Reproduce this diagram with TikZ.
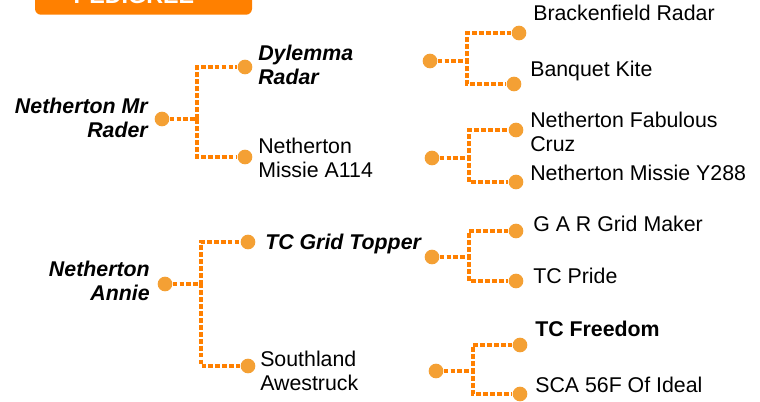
\documentclass[tikz,border=0pt]{standalone}
\usepackage{fontspec}
\setmainfont{Liberation Sans}
\usetikzlibrary{positioning}

\definecolor{pedorange}{RGB}{255,128,0}
\definecolor{dotorange}{RGB}{244,160,52}

\begin{document}
\begin{tikzpicture}[
  x=0.75pt,y=-0.75pt,
  font=\fontsize{16}{18}\selectfont,
  banner/.style={fill=pedorange,rounded corners=4.5pt,minimum width=162.75pt,minimum height=30pt,inner sep=0pt},
  bannertext/.style={font=\fontsize{17.5}{20}\selectfont\bfseries,text=white,inner sep=0pt},
  horse/.style={inner sep=0pt,align=left,anchor=base west},
  sire/.style={horse,font=\fontsize{16}{18}\selectfont\bfseries\itshape},
  champ/.style={horse,font=\fontsize{16}{18}\selectfont\bfseries},
  leftsire/.style={sire,align=right,anchor=base east},
  pdot/.style={circle,fill=dotorange,minimum size=11pt,inner sep=0pt},
  lineage/.style={draw=pedorange,line width=2.4pt,dash pattern=on 3.6pt off 1.6pt},
  fork/.style={to path={-- ++(#1,0) |- (\tikztotarget)}}
]
\useasboundingbox (0,0) rectangle (760,401);
\clip (0,0) rectangle (760,401);

% header
\node[banner,anchor=south] (head) at (143.5,15) {};
\node[bannertext,anchor=base] (headtxt) at (134,3) {PEDIGREE};

% sire side (base = last line)
\node[leftsire] (rader) at (148,137) {Netherton Mr\\Rader};
\node[pdot] (draderl) at (162,119) {};
\node[sire] (dylemma) at (258,84) {Dylemma\\Radar};
\node[pdot] (ddyl) at (245,67) {};
\node[horse] (missie) at (258,177) {Netherton\\Missie A114};
\node[pdot] (dmis) at (245,157) {};
\draw[lineage] (draderl) edge[fork=35] (ddyl) edge[fork=35] (dmis);

\node[pdot] (ddylp) at (430,61) {};
\node[horse] (brack) at (533,20) {Brackenfield Radar};
\node[pdot] (dbrack) at (519,33) {};
\node[horse] (kite) at (530,76) {Banquet Kite};
\node[pdot] (dkite) at (514,84) {};
\draw[lineage] (ddylp) edge[fork=37] (dbrack) edge[fork=37] (dkite);

\node[pdot] (dmisp) at (432,158) {};
\node[horse] (cruz) at (530,151) {Netherton Fabulous\\Cruz};
\node[pdot] (dcruz) at (516,130) {};
\node[horse] (ymis) at (530,180) {Netherton Missie Y288};
\node[pdot] (dymis) at (516,182) {};
\draw[lineage] (dmisp) edge[fork=37] (dcruz) edge[fork=37] (dymis);

% dam side
\node[leftsire] (annie) at (150,300) {Netherton\\Annie};
\node[pdot] (dannie) at (165,284) {};
\node[sire] (topper) at (265,249) {TC Grid Topper};
\node[pdot] (dtop) at (248,242) {};
\node[horse] (south) at (260,390) {Southland\\Awestruck};
\node[pdot] (dsouth) at (248,366) {};
\draw[lineage] (dannie) edge[fork=36] (dtop) edge[fork=36] (dsouth);

\node[pdot] (dtopp) at (432,257) {};
\node[horse] (gar) at (533,231) {G A R Grid Maker};
\node[pdot] (dgar) at (516,231) {};
\node[horse] (pride) at (533,283) {TC Pride};
\node[pdot] (dpride) at (516,281) {};
\draw[lineage] (dtopp) edge[fork=37] (dgar) edge[fork=37] (dpride);

\node[pdot] (dsouthp) at (436,371) {};
\node[champ] (freedom) at (535,336) {TC Freedom};
\node[pdot] (dfree) at (520,345) {};
\node[horse] (sca) at (535,392) {SCA 56F Of Ideal};
\node[pdot] (dsca) at (520,394) {};
\draw[lineage] (dsouthp) edge[fork=37] (dfree) edge[fork=37] (dsca);
\end{tikzpicture}
\end{document}
